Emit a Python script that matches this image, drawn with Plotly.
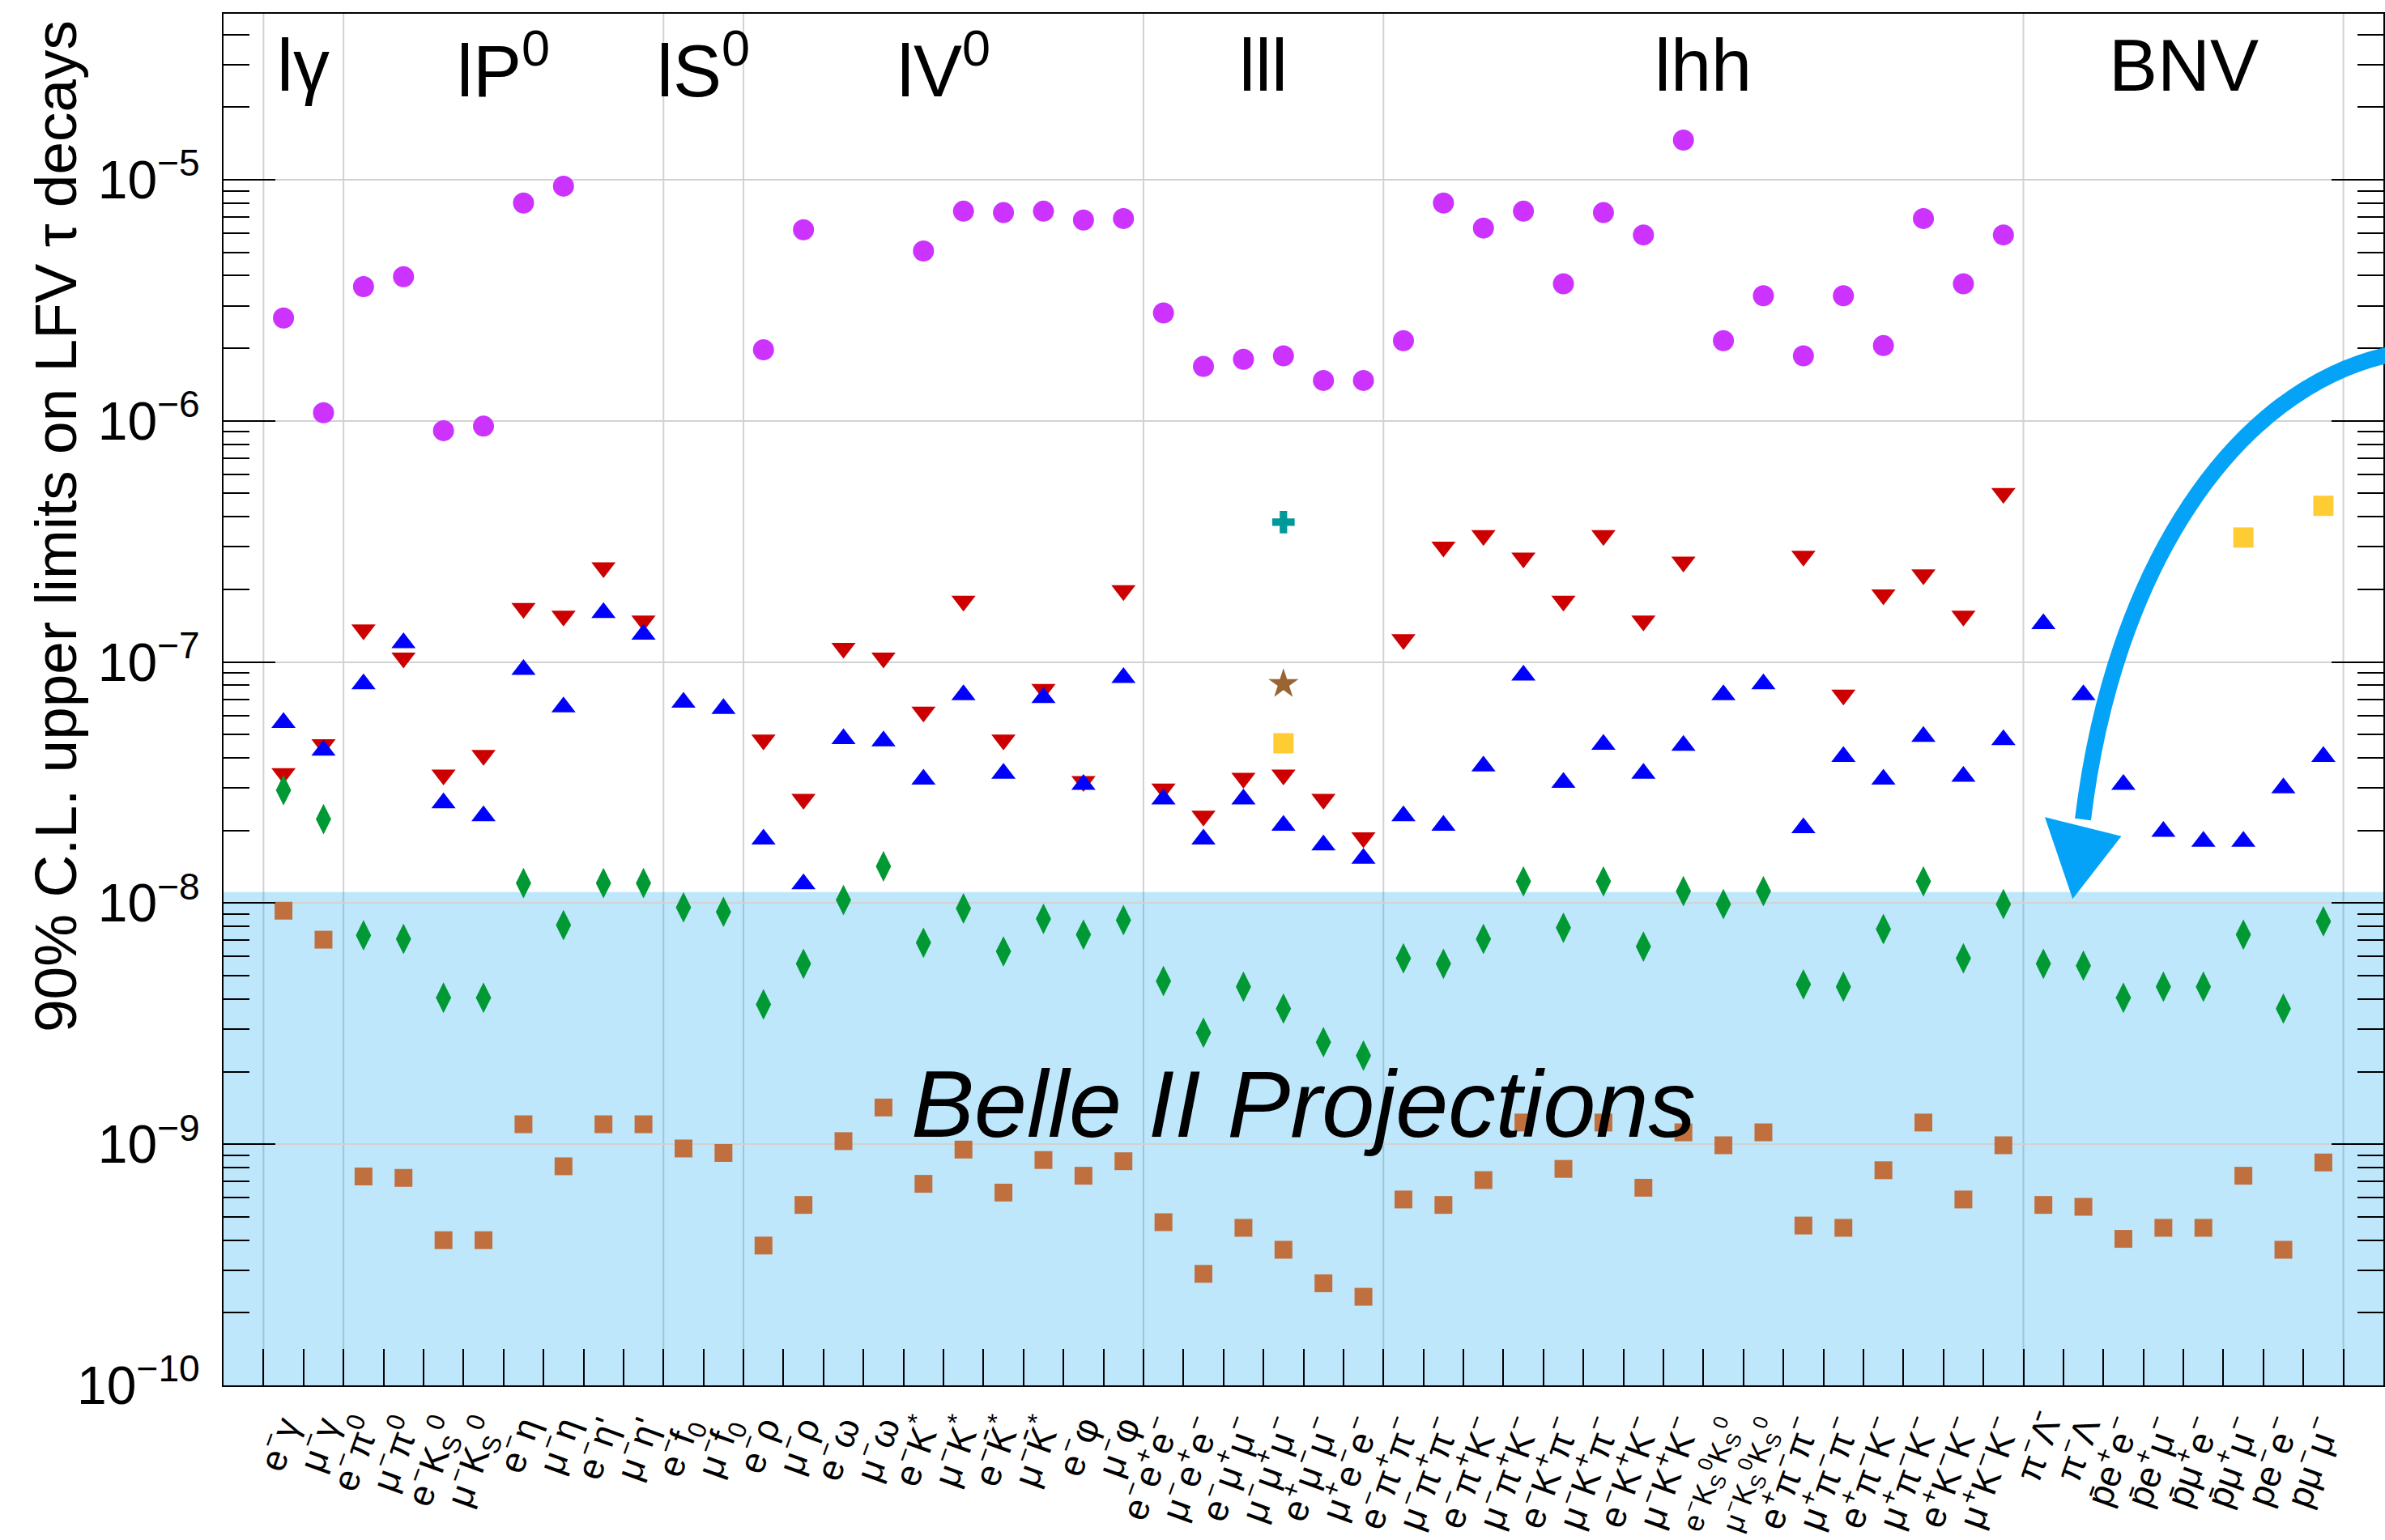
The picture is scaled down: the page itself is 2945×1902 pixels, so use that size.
import math
import plotly.graph_objects as go

# ---------------- data ----------------
decay_labels = [
    "e<sup>−</sup>γ", "μ<sup>−</sup>γ",
    "e<sup>−</sup>π<sup>0</sup>", "μ<sup>−</sup>π<sup>0</sup>",
    "e<sup>−</sup>K<sub>S</sub><sup>0</sup>", "μ<sup>−</sup>K<sub>S</sub><sup>0</sup>",
    "e<sup>−</sup>η", "μ<sup>−</sup>η", "e<sup>−</sup>η'", "μ<sup>−</sup>η'",
    "e<sup>−</sup>f<sub>0</sub>", "μ<sup>−</sup>f<sub>0</sub>",
    "e<sup>−</sup>ρ", "μ<sup>−</sup>ρ", "e<sup>−</sup>ω", "μ<sup>−</sup>ω",
    "e<sup>−</sup>K<sup>*</sup>", "μ<sup>−</sup>K<sup>*</sup>",
    "e<sup>−</sup>K̄<sup>*</sup>", "μ<sup>−</sup>K̄<sup>*</sup>",
    "e<sup>−</sup>φ", "μ<sup>−</sup>φ",
    "e<sup>−</sup>e<sup>+</sup>e<sup>−</sup>", "μ<sup>−</sup>e<sup>+</sup>e<sup>−</sup>",
    "e<sup>−</sup>μ<sup>+</sup>μ<sup>−</sup>", "μ<sup>−</sup>μ<sup>+</sup>μ<sup>−</sup>",
    "e<sup>+</sup>μ<sup>−</sup>μ<sup>−</sup>", "μ<sup>+</sup>e<sup>−</sup>e<sup>−</sup>",
    "e<sup>−</sup>π<sup>+</sup>π<sup>−</sup>", "μ<sup>−</sup>π<sup>+</sup>π<sup>−</sup>",
    "e<sup>−</sup>π<sup>+</sup>K<sup>−</sup>", "μ<sup>−</sup>π<sup>+</sup>K<sup>−</sup>",
    "e<sup>−</sup>K<sup>+</sup>π<sup>−</sup>", "μ<sup>−</sup>K<sup>+</sup>π<sup>−</sup>",
    "e<sup>−</sup>K<sup>+</sup>K<sup>−</sup>", "μ<sup>−</sup>K<sup>+</sup>K<sup>−</sup>",
    "<span style='font-size:36px'>e<sup>−</sup>K<sub>S</sub><sup>0</sup>K<sub>S</sub><sup>0</sup></span>",
    "<span style='font-size:36px'>μ<sup>−</sup>K<sub>S</sub><sup>0</sup>K<sub>S</sub><sup>0</sup></span>",
    "e<sup>+</sup>π<sup>−</sup>π<sup>−</sup>", "μ<sup>+</sup>π<sup>−</sup>π<sup>−</sup>",
    "e<sup>+</sup>π<sup>−</sup>K<sup>−</sup>", "μ<sup>+</sup>π<sup>−</sup>K<sup>−</sup>",
    "e<sup>+</sup>K<sup>−</sup>K<sup>−</sup>", "μ<sup>+</sup>K<sup>−</sup>K<sup>−</sup>",
    "π<sup>−</sup>Λ̄", "π<sup>−</sup>Λ",
    "p̄e<sup>+</sup>e<sup>−</sup>", "p̄e<sup>+</sup>μ<sup>−</sup>",
    "p̄μ<sup>+</sup>e<sup>−</sup>", "p̄μ<sup>+</sup>μ<sup>−</sup>",
    "pe<sup>−</sup>e<sup>−</sup>", "pμ<sup>−</sup>μ<sup>−</sup>",
]

group_names = ["lγ", "lP<sup>0</sup>", "lS<sup>0</sup>", "lV<sup>0</sup>", "lll", "lhh", "BNV"]
group_sizes = [2, 8, 2, 10, 6, 16, 8]

circle_limits = [
    2.67e-6, 1.08e-6, 3.6e-6, 3.96e-6, 9.1e-7, 9.5e-7, 8.0e-6, 9.4e-6, None, None,
    None, None, 1.97e-6, 6.2e-6, None, None, 5.06e-6, 7.4e-6, 7.3e-6, 7.4e-6,
    6.8e-6, 6.9e-6, 2.8e-6, 1.68e-6, 1.8e-6, 1.86e-6, 1.47e-6, 1.47e-6, 2.15e-6, 8.0e-6,
    6.3e-6, 7.4e-6, 3.7e-6, 7.3e-6, 5.9e-6, 1.46e-5, 2.15e-6, 3.3e-6, 1.86e-6, 3.3e-6,
    2.05e-6, 6.9e-6, 3.7e-6, 5.9e-6, None, None, None, None, None, None,
    None, None,
]

red_limits = [
    3.45e-8, 4.55e-8, 1.36e-7, 1.04e-7, 3.4e-8, 4.1e-8, 1.67e-7, 1.55e-7, 2.46e-7, 1.48e-7,
    None, None, 4.75e-8, 2.7e-8, 1.14e-7, 1.04e-7, 6.2e-8, 1.79e-7, 4.75e-8, 7.7e-8,
    3.2e-8, 1.98e-7, 2.98e-8, 2.3e-8, 3.3e-8, 3.4e-8, 2.7e-8, 1.87e-8, 1.24e-7, 3.0e-7,
    3.35e-7, 2.7e-7, 1.79e-7, 3.35e-7, 1.48e-7, 2.6e-7, None, None, 2.75e-7, 7.3e-8,
    1.9e-7, 2.3e-7, 1.55e-7, 5.0e-7, None, None, None, None, None, None,
    None, None,
]

blue_limits = [
    5.6e-8, 4.3e-8, 8.1e-8, 1.2e-7, 2.6e-8, 2.3e-8, 9.3e-8, 6.5e-8, 1.6e-7, 1.3e-7,
    6.8e-8, 6.4e-8, 1.84e-8, 1.2e-8, 4.8e-8, 4.7e-8, 3.26e-8, 7.3e-8, 3.45e-8, 7.1e-8,
    3.1e-8, 8.6e-8, 2.7e-8, 1.84e-8, 2.7e-8, 2.1e-8, 1.74e-8, 1.53e-8, 2.3e-8, 2.1e-8,
    3.7e-8, 8.8e-8, 3.16e-8, 4.55e-8, 3.45e-8, 4.5e-8, 7.3e-8, 8.1e-8, 2.05e-8, 4.05e-8,
    3.26e-8, 4.9e-8, 3.35e-8, 4.75e-8, 1.44e-7, 7.3e-8, 3.1e-8, 1.98e-8, 1.8e-8, 1.8e-8,
    3.0e-8, 4.05e-8,
]

green_limits = [
    2.94e-8, 2.23e-8, 7.35e-9, 7.1e-9, 4.05e-9, 4.05e-9, 1.21e-8, 8.1e-9, 1.21e-8, 1.21e-8,
    9.6e-9, 9.2e-9, 3.8e-9, 5.6e-9, 1.03e-8, 1.42e-8, 6.85e-9, 9.5e-9, 6.3e-9, 8.6e-9,
    7.4e-9, 8.5e-9, 4.75e-9, 2.9e-9, 4.5e-9, 3.65e-9, 2.65e-9, 2.33e-9, 5.9e-9, 5.6e-9,
    7.1e-9, 1.23e-8, 7.9e-9, 1.23e-8, 6.6e-9, 1.12e-8, 9.9e-9, 1.12e-8, 4.6e-9, 4.5e-9,
    7.8e-9, 1.23e-8, 5.9e-9, 9.9e-9, 5.6e-9, 5.5e-9, 4.05e-9, 4.5e-9, 4.5e-9, 7.4e-9,
    3.65e-9, 8.4e-9,
]

brown_limits = [
    9.3e-9, 7.05e-9, 7.35e-10, 7.25e-10, 4.0e-10, 4.0e-10, 1.21e-9, 8.1e-10, 1.21e-9, 1.21e-9,
    9.6e-10, 9.2e-10, 3.8e-10, 5.6e-10, 1.03e-9, 1.42e-9, 6.85e-10, 9.5e-10, 6.3e-10, 8.6e-10,
    7.4e-10, 8.5e-10, 4.75e-10, 2.9e-10, 4.5e-10, 3.65e-10, 2.65e-10, 2.33e-10, 5.9e-10, 5.6e-10,
    7.1e-10, 1.23e-9, 7.9e-10, 1.23e-9, 6.6e-10, 1.12e-9, 9.9e-10, 1.12e-9, 4.6e-10, 4.5e-10,
    7.8e-10, 1.23e-9, 5.9e-10, 9.9e-10, 5.6e-10, 5.5e-10, 4.05e-10, 4.5e-10, 4.5e-10, 7.4e-10,
    3.65e-10, 8.4e-10,
]

# LHC experiments (few channels only): index into decay_labels -> value
lhcb_idx = [25, 49, 51]
lhcb_limits = [4.6e-8, 3.28e-7, 4.44e-7]
atlas_idx = [25]
atlas_limits = [3.8e-7]
cms_idx = [25]
cms_limits = [8.1e-8]

band_top = 1.11e-8          # upper edge of the "Belle II Projections" band
y_min_exp, y_max_exp = -10, -4.312
y_tick_exps = [-10, -9, -8, -7, -6, -5]

# ---------------- figure ----------------
n = len(decay_labels)
xs = list(range(n))

W, H = 2945, 1902
PL, PR, PT, PB = 276, 2943, 17, 1711
FONT = "Liberation Sans"


def pxp(x):
    return (x - PL) / (PR - PL)


def pyp(y):
    return (PB - y) / (PB - PT)


fig = go.Figure()


def add(xvals, yvals, symbol, color, size, name):
    fig.add_trace(go.Scatter(
        x=xvals, y=yvals, mode="markers", name=name,
        marker=dict(symbol=symbol, color=color, size=size, line=dict(width=0)),
        showlegend=False, cliponaxis=False))


add(xs, circle_limits, "circle", "#CC33FF", 26, "circles")
add(xs, red_limits, "triangle-down", "#CC0000", 26, "red")
add(xs, blue_limits, "triangle-up", "#0000FF", 26, "blue")
add(xs, green_limits, "diamond-tall", "#009933", 27, "green")
add(xs, brown_limits, "square", "#C0703F", 22, "brown")
add(lhcb_idx, lhcb_limits, "square", "#FFCC33", 25, "LHCb")
add(atlas_idx, atlas_limits, "cross", "#009999", 23, "ATLAS")
add(cms_idx, cms_limits, "star", "#996633", 28, "CMS")

# group boundaries / centres
bounds = [-0.5]
for s in group_sizes:
    bounds.append(bounds[-1] + s)
centres = [(bounds[i] + bounds[i + 1]) / 2 for i in range(len(group_sizes))]

shapes = []
for b in bounds:
    shapes.append(dict(type="line", xref="x", yref="paper", x0=b, x1=b, y0=0, y1=1,
                       line=dict(color="#d2d2d2", width=2), layer="below"))

band_frac = (math.log10(band_top) - y_min_exp) / (y_max_exp - y_min_exp)
shapes.append(dict(type="rect", xref="paper", yref="paper", x0=0, x1=1, y0=0, y1=band_frac,
                   fillcolor="rgba(0,160,240,0.25)", line=dict(width=0), layer="between"))

# decorative arrow (pixel positions converted to paper coords)
arrow_col = "#05A3F7"
p0, p1, p2, p3 = (2950, 438), (2760, 480), (2610, 700), (2572, 1012)
path = "M {},{} C {},{} {},{} {},{}".format(
    pxp(p0[0]), pyp(p0[1]), pxp(p1[0]), pyp(p1[1]), pxp(p2[0]), pyp(p2[1]), pxp(p3[0]), pyp(p3[1]))
shapes.append(dict(type="path", xref="paper", yref="paper", path=path,
                   line=dict(color=arrow_col, width=20), layer="above"))
h1, h2, h3 = (2528, 1012), (2616, 1034), (2560, 1106)
head = "M {},{} L {},{} L {},{} Z".format(
    pxp(h1[0]), pyp(h1[1]), pxp(h2[0]), pyp(h2[1]), pxp(h3[0]), pyp(h3[1]))
shapes.append(dict(type="path", xref="paper", yref="paper", path=head,
                   fillcolor=arrow_col, line=dict(color=arrow_col, width=4), layer="above"))

annotations = []
for name, c in zip(group_names, centres):
    annotations.append(dict(x=c, xref="x", y=0.962, yref="paper", text=name, showarrow=False,
                            xanchor="center", yanchor="middle",
                            font=dict(family=FONT, size=90, color="black")))

annotations.append(dict(x=0.5, y=0.205, xref="paper", yref="paper",
                        text="<i>Belle II Projections</i>", showarrow=False,
                        xanchor="center", yanchor="middle",
                        font=dict(family=FONT, size=117, color="black")))

annotations.append(dict(x=pxp(68), y=pyp(650), xref="paper", yref="paper",
                        text="90% C.L. upper limits on LFV τ decays", textangle=-90,
                        showarrow=False, xanchor="center", yanchor="middle",
                        font=dict(family=FONT, size=73, color="black")))

minor_y = [k * 10.0 ** e for e in range(y_min_exp, -4) for k in range(2, 10)
           if math.log10(k * 10.0 ** e) < y_max_exp]

fig.update_layout(
    width=W, height=H,
    margin=dict(l=PL, r=W - PR, t=PT, b=H - PB, pad=0, autoexpand=False),
    paper_bgcolor="white", plot_bgcolor="white",
    shapes=shapes, annotations=annotations,
    font=dict(family=FONT, color="black"),
    xaxis=dict(
        range=[-1.5, n + 0.5], showgrid=False, zeroline=False, automargin=False,
        tickmode="array", tickvals=xs, ticktext=decay_labels,
        tickangle=-70, ticks="", tickfont=dict(family=FONT, size=45, color="black"),
        ticklabelstandoff=6,
        showline=True, linecolor="black", linewidth=2, mirror=True,
        minor=dict(tickmode="array", tickvals=[i - 0.5 for i in range(n + 1)],
                   ticks="inside", ticklen=45, tickwidth=2, tickcolor="black", showgrid=False),
    ),
    yaxis=dict(
        type="log", range=[y_min_exp, y_max_exp], automargin=False,
        tickmode="array", tickvals=[10.0 ** e for e in y_tick_exps],
        ticktext=["10<sup>−{}</sup>".format(-e) for e in y_tick_exps],
        tickfont=dict(family=FONT, size=66, color="black"),
        ticks="inside", ticklen=64, tickwidth=2, tickcolor="black",
        ticklabelstandoff=14,
        showgrid=True, gridcolor="#d2d2d2", gridwidth=2, zeroline=False,
        showline=True, linecolor="black", linewidth=2, mirror="ticks",
        minor=dict(tickmode="array", tickvals=minor_y, ticks="inside", ticklen=32,
                   tickwidth=2, tickcolor="black", showgrid=False),
    ),
)

fig.write_html("out.html")
